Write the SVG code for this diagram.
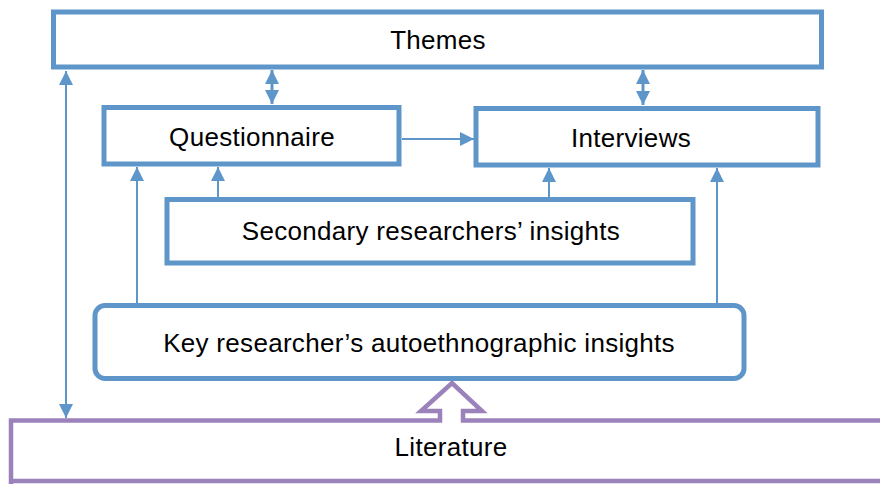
<svg xmlns="http://www.w3.org/2000/svg" width="880" height="484" viewBox="0 0 880 484">
<style>
.box{fill:#fff;stroke:#5f96c9;stroke-width:5}
.lit{fill:#fff;stroke:#9b82bb;stroke-width:4.5}
.lbl{font-family:"Liberation Sans",Arial,sans-serif;font-size:26px;letter-spacing:0.3px;fill:#000;text-anchor:middle}
.con{stroke:#5f96c9;stroke-width:2;fill:none}
.thk{stroke-width:3}
</style>
<defs>
<marker id="ah" viewBox="0 0 10 10" refX="10" refY="5" markerWidth="14" markerHeight="14" markerUnits="userSpaceOnUse" orient="auto-start-reverse">
<path d="M0,0 L10,5 L0,10 Z" fill="#5f96c9"/>
</marker>
</defs>
<g id="literature">
<path class="lit" d="M11,492 L11,420.5 L440,420.5 L440,411 L421,411 L452,383 L482,411 L463,411 L463,420.5 L892,420.5 L892,481 L11,481 Z"/>
<text class="lbl" x="451" y="456">Literature</text>
</g>
<g id="themes">
<rect class="box" x="53.5" y="12" width="768" height="55"/>
<text class="lbl" x="438" y="49">Themes</text>
</g>
<g id="questionnaire">
<rect class="box" x="104" y="107.5" width="295" height="56.5"/>
<text class="lbl" x="252" y="146">Questionnaire</text>
</g>
<g id="interviews">
<rect class="box" x="476" y="108.5" width="342" height="56.5"/>
<text class="lbl" x="631" y="147">Interviews</text>
</g>
<g id="secondary">
<rect class="box" x="167" y="199.5" width="526" height="63.5"/>
<text class="lbl" x="431" y="240">Secondary researchers’ insights</text>
</g>
<g id="key">
<rect class="box" x="95" y="305.5" width="649" height="73" rx="10"/>
<text class="lbl" x="419" y="352">Key researcher’s autoethnographic insights</text>
</g>
<g id="connectors">
<line class="con thk" x1="272" y1="70" x2="272" y2="104" marker-start="url(#ah)" marker-end="url(#ah)"/>
<line class="con thk" x1="643" y1="70" x2="643" y2="105" marker-start="url(#ah)" marker-end="url(#ah)"/>
<line class="con" x1="66" y1="71" x2="66" y2="418" marker-start="url(#ah)" marker-end="url(#ah)"/>
<line class="con" x1="402" y1="139" x2="474" y2="139" marker-end="url(#ah)"/>
<line class="con" x1="218" y1="197" x2="218" y2="167" marker-end="url(#ah)"/>
<line class="con" x1="549" y1="197" x2="549" y2="168" marker-end="url(#ah)"/>
<line class="con" x1="137" y1="303" x2="137" y2="167" marker-end="url(#ah)"/>
<line class="con" x1="717" y1="303" x2="717" y2="168" marker-end="url(#ah)"/>
</g>
</svg>
